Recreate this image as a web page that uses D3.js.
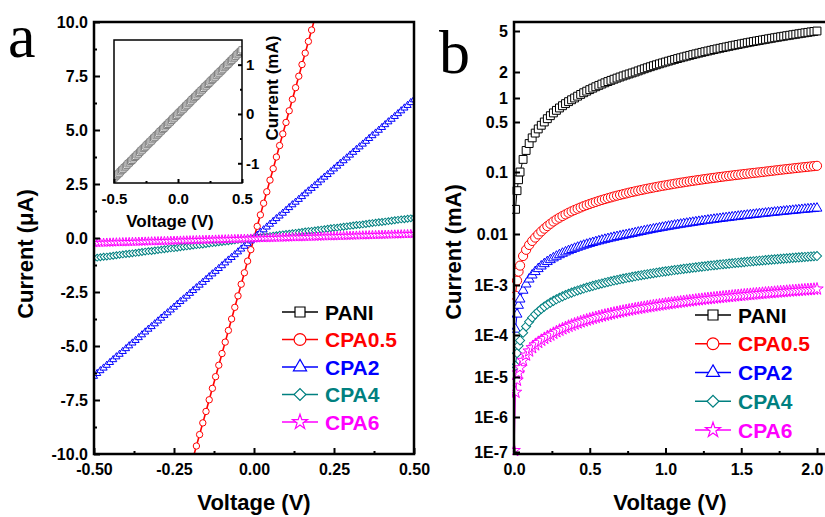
<!DOCTYPE html>
<html>
<head>
<meta charset="utf-8">
<script src="https://cdnjs.cloudflare.com/ajax/libs/d3/7.8.5/d3.min.js"></script>
<style>
body { margin: 0; background: #fff; }
text { font-family: "Liberation Sans", Arial, sans-serif; font-weight: bold; }
</style>
</head>
<body>
<div id="chart"></div>
<script>
// series names, shared by both panels
var seriesNames = ["PANI", "CPA0.5", "CPA2", "CPA4", "CPA6"];

// panel a: voltage (V) and current (uA)
var voltA = [-0.50,-0.49,-0.48,-0.47,-0.46,-0.45,-0.44,-0.43,-0.42,-0.41,-0.40,-0.39,-0.38,-0.37,-0.36,-0.35,-0.34,-0.33,-0.32,-0.31,
  -0.30,-0.29,-0.28,-0.27,-0.26,-0.25,-0.24,-0.23,-0.22,-0.21,-0.20,-0.19,-0.18,-0.17,-0.16,-0.15,-0.14,-0.13,-0.12,-0.11,
  -0.10,-0.09,-0.08,-0.07,-0.06,-0.05,-0.04,-0.03,-0.02,-0.01,0,0.01,0.02,0.03,0.04,0.05,0.06,0.07,0.08,0.09,
  0.10,0.11,0.12,0.13,0.14,0.15,0.16,0.17,0.18,0.19,0.20,0.21,0.22,0.23,0.24,0.25,0.26,0.27,0.28,0.29,
  0.30,0.31,0.32,0.33,0.34,0.35,0.36,0.37,0.38,0.39,0.40,0.41,0.42,0.43,0.44,0.45,0.46,0.47,0.48,0.49,0.50];
var voltA05 = [-0.20,-0.19,-0.18,-0.17,-0.16,-0.15,-0.14,-0.13,-0.12,-0.11,-0.10,-0.09,-0.08,-0.07,-0.06,-0.05,-0.04,-0.03,-0.02,-0.01,0,
  0.01,0.02,0.03,0.04,0.05,0.06,0.07,0.08,0.09,0.10,0.11,0.12,0.13,0.14,0.15,0.16,0.17,0.18,0.19,0.20];
var cpa05A = [-10.70,-10.17,-9.63,-9.10,-8.56,-8.03,-7.49,-6.96,-6.42,-5.89,-5.35,-4.82,-4.28,-3.75,-3.21,-2.68,-2.14,-1.61,-1.07,-0.54,0,
  0.54,1.07,1.61,2.14,2.68,3.21,3.75,4.28,4.82,5.35,5.89,6.42,6.96,7.49,8.03,8.56,9.10,9.63,10.17,10.70];
var cpa2A = [-6.40,-6.27,-6.14,-6.02,-5.89,-5.76,-5.63,-5.50,-5.38,-5.25,-5.12,-4.99,-4.86,-4.74,-4.61,-4.48,-4.35,-4.22,-4.10,-3.97,
  -3.84,-3.71,-3.58,-3.46,-3.33,-3.20,-3.07,-2.94,-2.82,-2.69,-2.56,-2.43,-2.30,-2.18,-2.05,-1.92,-1.79,-1.66,-1.54,-1.41,
  -1.28,-1.15,-1.02,-0.90,-0.77,-0.64,-0.51,-0.38,-0.26,-0.13,0,0.13,0.26,0.38,0.51,0.64,0.77,0.90,1.02,1.15,
  1.28,1.41,1.54,1.66,1.79,1.92,2.05,2.18,2.30,2.43,2.56,2.69,2.82,2.94,3.07,3.20,3.33,3.46,3.58,3.71,
  3.84,3.97,4.10,4.22,4.35,4.48,4.61,4.74,4.86,4.99,5.12,5.25,5.38,5.50,5.63,5.76,5.89,6.02,6.14,6.27,6.40];
var cpa4A = [-0.93,-0.91,-0.89,-0.87,-0.86,-0.84,-0.82,-0.80,-0.78,-0.76,-0.74,-0.73,-0.71,-0.69,-0.67,-0.65,-0.63,-0.61,-0.60,-0.58,
  -0.56,-0.54,-0.52,-0.50,-0.48,-0.47,-0.45,-0.43,-0.41,-0.39,-0.37,-0.35,-0.33,-0.32,-0.30,-0.28,-0.26,-0.24,-0.22,-0.20,
  -0.19,-0.17,-0.15,-0.13,-0.11,-0.09,-0.07,-0.06,-0.04,-0.02,0,0.02,0.04,0.06,0.07,0.09,0.11,0.13,0.15,0.17,
  0.19,0.20,0.22,0.24,0.26,0.28,0.30,0.32,0.33,0.35,0.37,0.39,0.41,0.43,0.45,0.47,0.48,0.50,0.52,0.54,
  0.56,0.58,0.60,0.61,0.63,0.65,0.67,0.69,0.71,0.73,0.74,0.76,0.78,0.80,0.82,0.84,0.86,0.87,0.89,0.91,0.93];
var cpa6A = [-0.230,-0.226,-0.222,-0.217,-0.213,-0.209,-0.205,-0.201,-0.196,-0.192,-0.188,-0.184,-0.180,-0.175,-0.171,-0.167,-0.163,-0.159,-0.154,-0.150,
  -0.146,-0.142,-0.138,-0.133,-0.129,-0.125,-0.121,-0.117,-0.112,-0.108,-0.104,-0.100,-0.096,-0.091,-0.087,-0.083,-0.079,-0.075,-0.070,-0.066,
  -0.062,-0.058,-0.054,-0.049,-0.045,-0.041,-0.037,-0.033,-0.028,-0.024,-0.020,-0.016,-0.012,-0.007,-0.003,0.001,0.005,0.009,0.014,0.018,
  0.022,0.026,0.030,0.035,0.039,0.043,0.047,0.051,0.056,0.060,0.064,0.068,0.072,0.077,0.081,0.085,0.089,0.093,0.098,0.102,
  0.106,0.110,0.114,0.119,0.123,0.127,0.131,0.135,0.140,0.144,0.148,0.152,0.156,0.161,0.165,0.169,0.173,0.177,0.182,0.186,0.190];
// inset: PANI current (mA)
var paniInset = [-1.30,-1.27,-1.25,-1.22,-1.20,-1.17,-1.14,-1.12,-1.09,-1.07,-1.04,-1.01,-0.99,-0.96,-0.94,-0.91,-0.88,-0.86,-0.83,-0.81,
  -0.78,-0.75,-0.73,-0.70,-0.68,-0.65,-0.62,-0.60,-0.57,-0.55,-0.52,-0.49,-0.47,-0.44,-0.42,-0.39,-0.36,-0.34,-0.31,-0.29,
  -0.26,-0.23,-0.21,-0.18,-0.16,-0.13,-0.10,-0.08,-0.05,-0.03,0,0.03,0.05,0.08,0.10,0.13,0.16,0.18,0.21,0.23,
  0.26,0.29,0.31,0.34,0.36,0.39,0.42,0.44,0.47,0.49,0.52,0.55,0.57,0.60,0.62,0.65,0.68,0.70,0.73,0.75,
  0.78,0.81,0.83,0.86,0.88,0.91,0.94,0.96,0.99,1.01,1.04,1.07,1.09,1.12,1.14,1.17,1.20,1.22,1.25,1.27,1.30];

// panel b: voltage (V) and current (uA, plotted in mA)
var voltB = [0.001,0.01,0.02,0.03,0.04,0.06,0.08,0.10,0.12,0.14,0.16,0.18,0.20,0.22,0.24,0.26,0.28,0.30,0.32,0.34,0.36,0.38,
  0.40,0.42,0.44,0.46,0.48,0.50,0.52,0.54,0.56,0.58,0.60,0.62,0.64,0.66,0.68,0.70,0.72,0.74,0.76,0.78,
  0.80,0.82,0.84,0.86,0.88,0.90,0.92,0.94,0.96,0.98,1.00,1.02,1.04,1.06,1.08,1.10,1.12,1.14,1.16,1.18,
  1.20,1.22,1.24,1.26,1.28,1.30,1.32,1.34,1.36,1.38,1.40,1.42,1.44,1.46,1.48,1.50,1.52,1.54,1.56,1.58,
  1.60,1.62,1.64,1.66,1.68,1.70,1.72,1.74,1.76,1.78,1.80,1.82,1.84,1.86,1.88,1.90,1.92,1.94,1.96,1.98,2.00];
var paniB = [null,25,50,75,100,150,200,250,300,350,400,450,500,550,600,650,700,750,800,850,900,950,
  1000,1050,1100,1150,1200,1250,1300,1350,1400,1450,1500,1550,1600,1650,1700,1750,1800,1850,1900,1950,
  2000,2050,2100,2150,2200,2250,2300,2350,2400,2450,2500,2550,2600,2650,2700,2750,2800,2850,2900,2950,
  3000,3050,3100,3150,3200,3250,3300,3350,3400,3450,3500,3550,3600,3650,3700,3750,3800,3850,3900,3950,
  4000,4050,4100,4150,4200,4250,4300,4350,4400,4450,4500,4550,4600,4650,4700,4750,4800,4850,4900,4950,5000];
var cpa05B = [null,0.61,1.22,1.83,2.4,3.7,4.9,6.1,7.3,8.5,9.8,11.0,12.2,13.4,14.6,15.9,17.1,18.3,19.5,20.7,22.0,23.2,
  24.4,25.6,26.8,28.1,29.3,30.5,31.7,32.9,34.2,35.4,36.6,37.8,39.0,40.3,41.5,42.7,43.9,45.1,46.4,47.6,
  48.8,50.0,51.2,52.5,53.7,54.9,56.1,57.3,58.6,59.8,61.0,62.2,63.4,64.7,65.9,67.1,68.3,69.5,70.8,72.0,
  73.2,74.4,75.6,76.9,78.1,79.3,80.5,81.7,83.0,84.2,85.4,86.6,87.8,89.1,90.3,91.5,92.7,93.9,95.2,96.4,
  97.6,98.8,100.0,101.3,102.5,103.7,104.9,106.1,107.4,108.6,109.8,111.0,112.2,113.5,114.7,115.9,117.1,118.3,119.6,120.8,122.0];
var cpa2B = [null,0.13,0.26,0.39,0.52,0.78,1.04,1.30,1.56,1.82,2.08,2.34,2.60,2.86,3.12,3.38,3.64,3.90,4.16,4.42,4.68,4.94,
  5.20,5.46,5.72,5.98,6.24,6.50,6.76,7.02,7.28,7.54,7.80,8.06,8.32,8.58,8.84,9.10,9.36,9.62,9.88,10.14,
  10.40,10.66,10.92,11.18,11.44,11.70,11.96,12.22,12.48,12.74,13.00,13.26,13.52,13.78,14.04,14.30,14.56,14.82,15.08,15.34,
  15.60,15.86,16.12,16.38,16.64,16.90,17.16,17.42,17.68,17.94,18.20,18.46,18.72,18.98,19.24,19.50,19.76,20.02,20.28,20.54,
  20.80,21.06,21.32,21.58,21.84,22.10,22.36,22.62,22.88,23.14,23.40,23.66,23.92,24.18,24.44,24.70,24.96,25.22,25.48,25.74,26.00];
var cpa4B = [null,0.0185,0.037,0.0555,0.074,0.111,0.148,0.185,0.222,0.259,0.296,0.333,0.370,0.407,0.444,0.481,0.518,0.555,0.592,0.629,0.666,0.703,
  0.740,0.777,0.814,0.851,0.888,0.925,0.962,0.999,1.036,1.073,1.110,1.147,1.184,1.221,1.258,1.295,1.332,1.369,1.406,1.443,
  1.480,1.517,1.554,1.591,1.628,1.665,1.702,1.739,1.776,1.813,1.850,1.887,1.924,1.961,1.998,2.035,2.072,2.109,2.146,2.183,
  2.220,2.257,2.294,2.331,2.368,2.405,2.442,2.479,2.516,2.553,2.590,2.627,2.664,2.701,2.738,2.775,2.812,2.849,2.886,2.923,
  2.960,2.997,3.034,3.071,3.108,3.145,3.182,3.219,3.256,3.293,3.330,3.367,3.404,3.441,3.478,3.515,3.552,3.589,3.626,3.663,3.700];
var cpa6B = [0.00011,0.00415,0.0083,0.01245,0.0166,0.0249,0.0332,0.0415,0.0498,0.0581,0.0664,0.0747,0.0830,0.0913,0.0996,0.1079,0.1162,0.1245,0.1328,0.1411,0.1494,0.1577,
  0.1660,0.1743,0.1826,0.1909,0.1992,0.2075,0.2158,0.2241,0.2324,0.2407,0.2490,0.2573,0.2656,0.2739,0.2822,0.2905,0.2988,0.3071,0.3154,0.3237,
  0.3320,0.3403,0.3486,0.3569,0.3652,0.3735,0.3818,0.3901,0.3984,0.4067,0.4150,0.4233,0.4316,0.4399,0.4482,0.4565,0.4648,0.4731,0.4814,0.4897,
  0.4980,0.5063,0.5146,0.5229,0.5312,0.5395,0.5478,0.5561,0.5644,0.5727,0.5810,0.5893,0.5976,0.6059,0.6142,0.6225,0.6308,0.6391,0.6474,0.6557,
  0.6640,0.6723,0.6806,0.6889,0.6972,0.7055,0.7138,0.7221,0.7304,0.7387,0.7470,0.7553,0.7636,0.7719,0.7802,0.7885,0.7968,0.8051,0.8134,0.8217,0.8300];

// ticks
var ticksAX = [-0.50, -0.25, 0, 0.25, 0.50];
var labelsAX = ["-0.50", "-0.25", "0.00", "0.25", "0.50"];
var minorAX = [-0.375, -0.125, 0.125, 0.375];
var ticksAY = [-10, -7.5, -5, -2.5, 0, 2.5, 5, 7.5, 10];
var labelsAY = ["-10.0", "-7.5", "-5.0", "-2.5", "0.0", "2.5", "5.0", "7.5", "10.0"];
var minorAY = [-8.75, -6.25, -3.75, -1.25, 1.25, 3.75, 6.25, 8.75];
var ticksInX = [-0.5, 0, 0.5];
var labelsInX = ["-0.5", "0.0", "0.5"];
var minorInX = [-0.25, 0.25];
var ticksInY = [-1, 0, 1];
var labelsInY = ["-1", "0", "1"];
var minorInY = [-0.5, 0.5];
var ticksBX = [0, 0.5, 1, 1.5, 2];
var labelsBX = ["0.0", "0.5", "1.0", "1.5", "2.0"];
var minorBX = [0.25, 0.75, 1.25, 1.75];
var ticksBY = [5, 2, 1, 0.5, 0.1, 0.01, 1e-3, 1e-4, 1e-5, 1e-6, 1e-7];
var labelsBY = ["5", "2", "1", "0.5", "0.1", "0.01", "1E-3", "1E-4", "1E-5", "1E-6", "1E-7"];

var colors = ["#000000", "#ff0000", "#0000ff", "#008080", "#ff00ff"];
var shapes = [d3.symbolSquare, d3.symbolCircle, d3.symbolTriangle, d3.symbolSquare, d3.symbolStar];
var rotate = [0, 0, 0, 45, 0];

var width = 825, height = 517;

var svg = d3.select("#chart").append("svg")
    .attr("width", width)
    .attr("height", height);

var defs = svg.append("defs");
defs.append("clipPath").attr("id", "clipA").append("rect")
    .attr("x", 94).attr("y", 22).attr("width", 320).attr("height", 432);
defs.append("clipPath").attr("id", "clipIn").append("rect")
    .attr("x", 114).attr("y", 40).attr("width", 128).attr("height", 143);
defs.append("clipPath").attr("id", "clipB").append("rect")
    .attr("x", 512).attr("y", 22).attr("width", 320).attr("height", 434);

var xA = d3.scaleLinear().domain([-0.5, 0.5]).range([94, 414]);
var yA = d3.scaleLinear().domain([-10, 10]).range([454, 22]);
var xIn = d3.scaleLinear().domain([-0.5, 0.5]).range([114, 242]);
var yIn = d3.scaleLinear().domain([-1.4, 1.5]).range([183, 40]);
var xB = d3.scaleLinear().domain([0, 2]).range([514, 817]);
// the log axis in the figure is not evenly spaced per decade, so map log10 piecewise
var yBlog = d3.scaleLinear()
    .domain(ticksBY.map(Math.log10))
    .range([31, 72, 98, 122, 172, 234, 285, 335, 377, 417, 452]);
function yB(mA) { return yBlog(Math.log10(mA)); }

function styleAxis(g, size) {
  g.select(".domain").remove();
  g.selectAll(".tick line").attr("stroke", "#000").attr("stroke-width", 2);
  g.selectAll(".tick text").attr("fill", "#000").style("font-size", size + "px")
      .style("font-family", "'Liberation Sans', Arial, sans-serif").style("font-weight", "bold");
}

function drawSeries(g, volts, vals, x, y, i, size, lineW) {
  var pts = volts.map(function(v, k) { return {v: v, c: vals[k]}; })
      .filter(function(d) { return d.c !== null; });
  var line = d3.line()
      .x(function(d) { return x(d.v); })
      .y(function(d) { return y(d.c); });
  g.append("path")
      .datum(pts)
      .attr("d", line)
      .attr("fill", "none")
      .attr("stroke", colors[i])
      .attr("stroke-width", lineW);
  g.selectAll(null)
      .data(pts)
      .enter().append("path")
      .attr("d", d3.symbol().type(shapes[i]).size(size))
      .attr("transform", function(d) {
        return "translate(" + x(d.v) + "," + y(d.c) + ") rotate(" + rotate[i] + ")";
      })
      .attr("fill", "#fff")
      .attr("stroke", colors[i])
      .attr("stroke-width", 1);
}

function drawLegend(x0, y0, step) {
  var leg = svg.append("g");
  var sizes = [100, 110, 75, 70, 70];
  seriesNames.forEach(function(name, i) {
    var y = y0 + i * step;
    leg.append("line")
        .attr("x1", x0).attr("x2", x0 + 36)
        .attr("y1", y).attr("y2", y)
        .attr("stroke", colors[i]).attr("stroke-width", 1.5);
    leg.append("path")
        .attr("d", d3.symbol().type(shapes[i]).size(sizes[i]))
        .attr("transform", "translate(" + (x0 + 18) + "," + y + ") rotate(" + rotate[i] + ")")
        .attr("fill", "#fff")
        .attr("stroke", colors[i])
        .attr("stroke-width", 1.2);
    leg.append("text")
        .attr("x", x0 + 43).attr("y", y)
        .attr("dy", "0.36em")
        .attr("fill", colors[i])
        .style("font-size", "21px")
        .text(name);
  });
}

// ---------- panel a ----------
var gA = svg.append("g").attr("clip-path", "url(#clipA)");
drawSeries(gA, voltA05, cpa05A, xA, yA, 1, 32, 1.6);
drawSeries(gA, voltA, cpa2A, xA, yA, 2, 22, 1);
drawSeries(gA, voltA, cpa4A, xA, yA, 3, 24, 1);
drawSeries(gA, voltA, cpa6A, xA, yA, 4, 24, 1);

svg.append("g").attr("transform", "translate(0,454)")
    .call(d3.axisBottom(xA).tickValues(ticksAX).tickSize(-6).tickPadding(10)
      .tickFormat(function(d, i) { return labelsAX[i]; }))
    .call(styleAxis, 16);
svg.append("g").attr("transform", "translate(0,454)")
    .call(d3.axisBottom(xA).tickValues(minorAX).tickSize(-3).tickFormat(""))
    .call(styleAxis, 16);
svg.append("g").attr("transform", "translate(94,0)")
    .call(d3.axisLeft(yA).tickValues(ticksAY).tickSize(-6).tickPadding(6)
      .tickFormat(function(d, i) { return labelsAY[i]; }))
    .call(styleAxis, 16);
svg.append("g").attr("transform", "translate(94,0)")
    .call(d3.axisLeft(yA).tickValues(minorAY).tickSize(-3).tickFormat(""))
    .call(styleAxis, 16);

svg.append("rect")
    .attr("x", 94).attr("y", 22).attr("width", 320).attr("height", 432)
    .attr("fill", "none").attr("stroke", "#000").attr("stroke-width", 2.5);

// inset
svg.append("rect")
    .attr("x", 114).attr("y", 40).attr("width", 128).attr("height", 143)
    .attr("fill", "#fff");
var gIn = svg.append("g").attr("clip-path", "url(#clipIn)");
gIn.append("path")
    .datum(voltA.map(function(v, k) { return {v: v, c: paniInset[k]}; }))
    .attr("d", d3.line().x(function(d) { return xIn(d.v); }).y(function(d) { return yIn(d.c); }))
    .attr("fill", "none").attr("stroke", "#808080").attr("stroke-width", 1);
gIn.selectAll(null)
    .data(voltA.map(function(v, k) { return {v: v, c: paniInset[k]}; }))
    .enter().append("path")
    .attr("d", d3.symbol().type(d3.symbolSquare).size(40))
    .attr("transform", function(d) { return "translate(" + xIn(d.v) + "," + yIn(d.c) + ")"; })
    .attr("fill", "#fff").attr("stroke", "#808080").attr("stroke-width", 1);

svg.append("g").attr("transform", "translate(0,183)")
    .call(d3.axisBottom(xIn).tickValues(ticksInX).tickSize(-4).tickPadding(10)
      .tickFormat(function(d, i) { return labelsInX[i]; }))
    .call(styleAxis, 15);
svg.append("g").attr("transform", "translate(0,183)")
    .call(d3.axisBottom(xIn).tickValues(minorInX).tickSize(-2).tickFormat(""))
    .call(styleAxis, 15);
svg.append("g").attr("transform", "translate(242,0)")
    .call(d3.axisRight(yIn).tickValues(ticksInY).tickSize(-4).tickPadding(4)
      .tickFormat(function(d, i) { return labelsInY[i]; }))
    .call(styleAxis, 15);
svg.append("g").attr("transform", "translate(242,0)")
    .call(d3.axisRight(yIn).tickValues(minorInY).tickSize(-2).tickFormat(""))
    .call(styleAxis, 15);
svg.append("rect")
    .attr("x", 114).attr("y", 40).attr("width", 128).attr("height", 143)
    .attr("fill", "none").attr("stroke", "#000").attr("stroke-width", 1.5);
svg.append("text")
    .attr("x", 170).attr("y", 227)
    .attr("text-anchor", "middle")
    .style("font-size", "17px")
    .text("Voltage (V)");
svg.append("text")
    .attr("transform", "translate(278,88) rotate(-90)")
    .attr("text-anchor", "middle")
    .style("font-size", "17px")
    .text("Current (mA)");

drawLegend(282, 312, 27.5);

svg.append("text")
    .attr("x", 254).attr("y", 510)
    .attr("text-anchor", "middle")
    .style("font-size", "22px")
    .text("Voltage (V)");
svg.append("text")
    .attr("transform", "translate(33,254) rotate(-90)")
    .attr("text-anchor", "middle")
    .style("font-size", "22px")
    .text("Current (μA)");
svg.append("text")
    .attr("x", 8).attr("y", 57)
    .style("font-family", "'Liberation Serif', 'Times New Roman', serif")
    .style("font-weight", "normal")
    .style("font-size", "62px")
    .text("a");

// ---------- panel b ----------
var gB = svg.append("g").attr("clip-path", "url(#clipB)");
var seriesB = [paniB, cpa05B, cpa2B, cpa4B, cpa6B];
var sizeB = [62, 66, 42, 42, 48];
seriesB.forEach(function(vals, i) {
  drawSeries(gB, voltB, vals.map(function(c) { return c === null ? null : c / 1000; }),
    xB, yB, i, sizeB[i], 1);
});

var axBX = svg.append("g").attr("transform", "translate(0,454)")
    .call(d3.axisBottom(xB).tickValues(ticksBX).tickSize(-6).tickPadding(10)
      .tickFormat(function(d, i) { return labelsBX[i]; }))
    .call(styleAxis, 16);
// last label sits at the window edge; keep it inside
axBX.selectAll(".tick text").filter(function(d) { return d === 2; })
    .attr("text-anchor", "end").attr("x", 6);
svg.append("g").attr("transform", "translate(0,454)")
    .call(d3.axisBottom(xB).tickValues(minorBX).tickSize(-3).tickFormat(""))
    .call(styleAxis, 16);
svg.append("g").attr("transform", "translate(514,0)")
    .call(d3.axisLeft(yBlog).tickValues(ticksBY.map(Math.log10)).tickSize(-6).tickPadding(6)
      .tickFormat(function(d, i) { return labelsBY[i]; }))
    .call(styleAxis, 16);

svg.append("rect")
    .attr("x", 514).attr("y", 22).attr("width", 330).attr("height", 432)
    .attr("fill", "none").attr("stroke", "#000").attr("stroke-width", 2.5);

drawLegend(695, 315, 28.75);

svg.append("text")
    .attr("x", 670).attr("y", 510)
    .attr("text-anchor", "middle")
    .style("font-size", "22px")
    .text("Voltage (V)");
svg.append("text")
    .attr("transform", "translate(461,252) rotate(-90)")
    .attr("text-anchor", "middle")
    .style("font-size", "22px")
    .text("Current (mA)");
svg.append("text")
    .attr("x", 439).attr("y", 73)
    .style("font-family", "'Liberation Serif', 'Times New Roman', serif")
    .style("font-weight", "normal")
    .style("font-size", "62px")
    .text("b");
</script>
</body>
</html>
